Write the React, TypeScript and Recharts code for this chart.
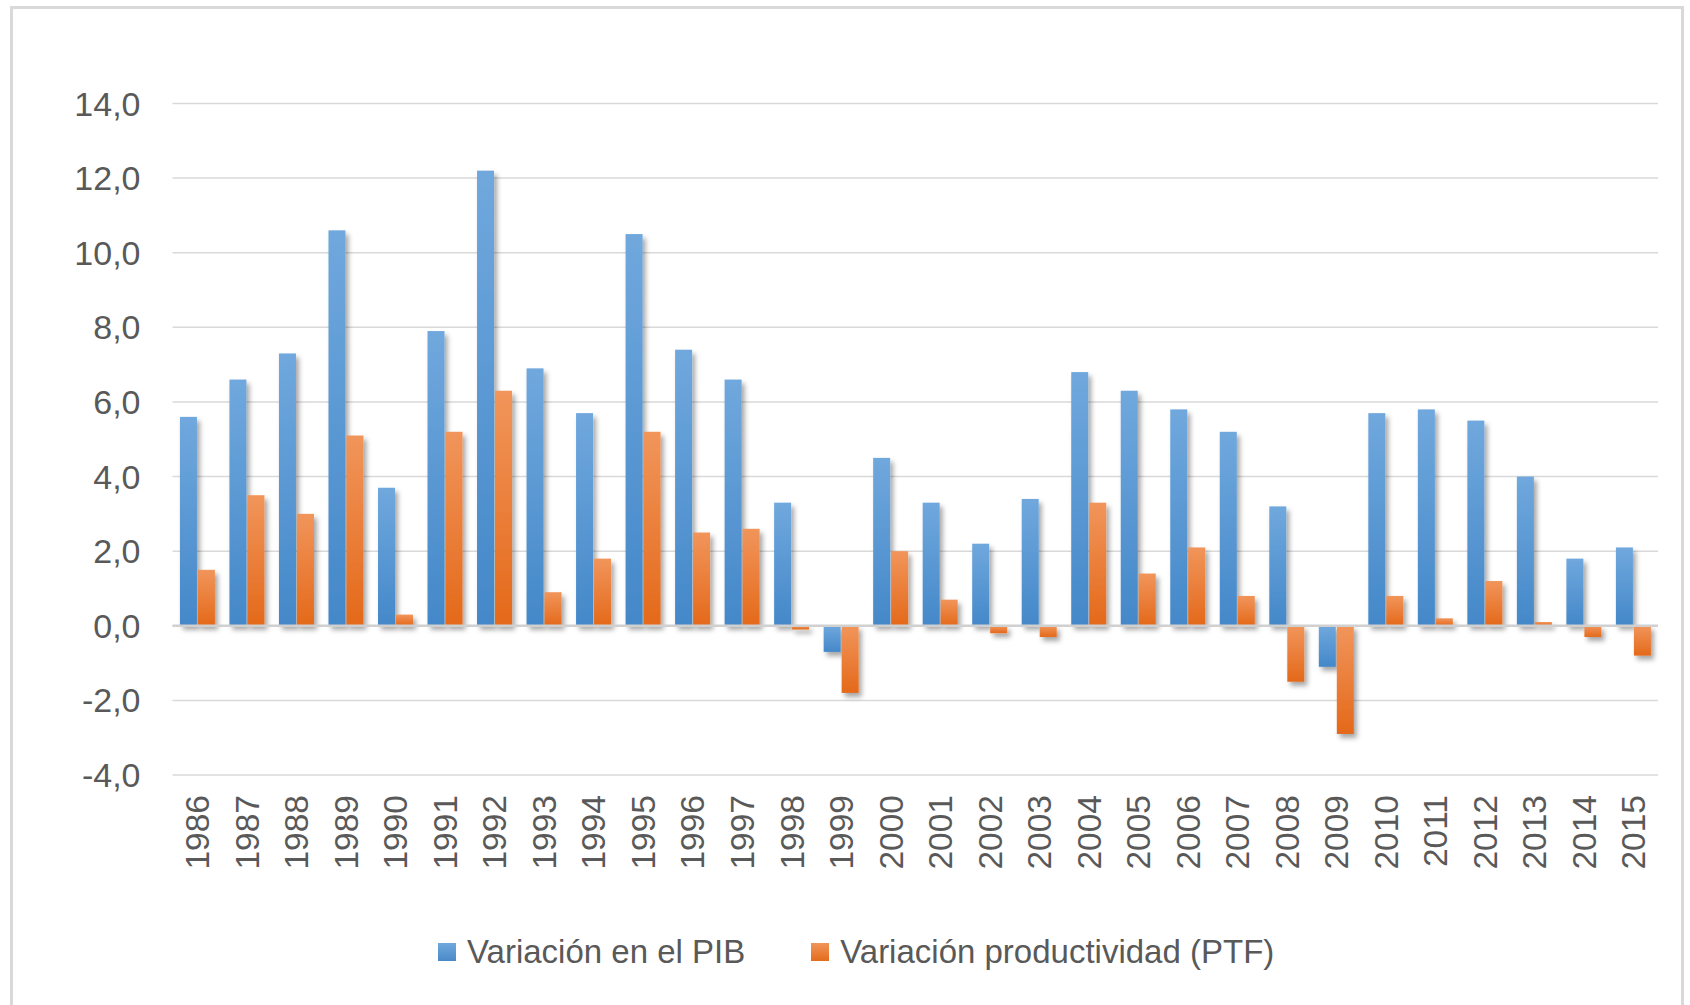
import React from 'react';
import { BarChart, Bar, XAxis, YAxis, CartesianGrid, ReferenceLine } from 'recharts';

const years = ['1986','1987','1988','1989','1990','1991','1992','1993','1994','1995','1996','1997','1998','1999','2000','2001','2002','2003','2004','2005','2006','2007','2008','2009','2010','2011','2012','2013','2014','2015'];
const pib = [5.6, 6.6, 7.3, 10.6, 3.7, 7.9, 12.2, 6.9, 5.7, 10.5, 7.4, 6.6, 3.3, -0.7, 4.5, 3.3, 2.2, 3.4, 6.8, 6.3, 5.8, 5.2, 3.2, -1.1, 5.7, 5.8, 5.5, 4.0, 1.8, 2.1];
const ptf = [1.5, 3.5, 3.0, 5.1, 0.3, 5.2, 6.3, 0.9, 1.8, 5.2, 2.5, 2.6, -0.1, -1.8, 2.0, 0.7, -0.2, -0.3, 3.3, 1.4, 2.1, 0.8, -1.5, -2.9, 0.8, 0.2, 1.2, 0.1, -0.3, -0.8];
const yTicks = [-4, -2, 0, 2, 4, 6, 8, 10, 12, 14];
const seriesNames = ['Variación en el PIB', 'Variación productividad (PTF)'];

const data = years.map((y, i) => ({ year: y, pib: pib[i], ptf: ptf[i] }));

const FONT = '"Liberation Sans", Arial, sans-serif';
const TEXT = '#595959';

const makeShape = (grad: string) => (props: any) => {
  const { x, y, width, height } = props;
  if (width == null || height == null) return null;
  const y0 = Math.min(y, y + height);
  const h = Math.abs(height);
  return <rect x={x} y={y0} width={width} height={h} fill={`url(#${grad})`} filter="url(#barShadow)" />;
};

const YearTick = (props: any) => {
  const { x, y, payload } = props;
  return (
    <text x={x} y={y} transform={`rotate(-90, ${x}, ${y})`} textAnchor="end" dy="0.36em" fill={TEXT} fontSize={33.5} fontFamily={FONT}>
      {payload.value}
    </text>
  );
};

const fmt = (v: number) => v.toFixed(1).replace('.', ',');

export default function App() {
  const legendColors = [
    'linear-gradient(#6fa8dc, #4a89c8)',
    'linear-gradient(#f0955a, #e46c1c)',
  ];
  return (
    <div style={{ position: 'absolute', left: 0, top: 0, width: 1690, height: 1005, background: '#fff', overflow: 'hidden', fontFamily: FONT }}>
      <div style={{ position: 'absolute', left: 10, top: 6, width: 1674, height: 1020, border: '3px solid #d9d9d9', boxSizing: 'border-box' }} />
      <div style={{ position: 'absolute', left: 0, top: 0 }}>
        <BarChart
          width={1690}
          height={1005}
          data={data}
          margin={{ top: 103.5, right: 32, bottom: 100, left: 0 }}
          barCategoryGap="15%"
          barGap={1}
        >
          <defs>
            <linearGradient id="gradBlue" x1="0" y1="0" x2="0" y2="1">
              <stop offset="0%" stopColor="#70a8dd" />
              <stop offset="100%" stopColor="#4488c9" />
            </linearGradient>
            <linearGradient id="gradOrange" x1="0" y1="0" x2="0" y2="1">
              <stop offset="0%" stopColor="#f1955b" />
              <stop offset="100%" stopColor="#e4691a" />
            </linearGradient>
            <filter id="barShadow" filterUnits="userSpaceOnUse" x="0" y="0" width="1690" height="1005">
              <feDropShadow dx="3" dy="4" stdDeviation="2.5" floodColor="#000" floodOpacity="0.35" />
            </filter>
          </defs>
          <CartesianGrid vertical={false} stroke="#d9d9d9" strokeWidth={1.5} />
          <XAxis
            dataKey="year"
            interval={0}
            axisLine={false}
            tickLine={false}
            tickSize={0}
            tickMargin={20}
            height={130}
            tick={<YearTick />}
          />
          <YAxis
            domain={[-4, 14]}
            ticks={yTicks}
            interval={0}
            width={172.5}
            axisLine={false}
            tickLine={false}
            tickSize={0}
            tickMargin={32}
            tickFormatter={fmt}
            tick={{ fill: TEXT, fontSize: 34, fontFamily: FONT }}
          />
          <Bar dataKey="pib" name={seriesNames[0]} isAnimationActive={false} shape={makeShape('gradBlue')} />
          <Bar dataKey="ptf" name={seriesNames[1]} isAnimationActive={false} shape={makeShape('gradOrange')} />
          <ReferenceLine y={0} stroke="#d0d0d0" strokeWidth={2.5} />
        </BarChart>
      </div>
      <div style={{ position: 'absolute', left: 438, top: 932, display: 'flex', alignItems: 'center', height: 40 }}>
        {seriesNames.map((n, i) => (
          <div key={n} style={{ display: 'flex', alignItems: 'center', marginRight: i === 0 ? 66 : 0 }}>
            <div style={{ width: 18, height: 18, background: legendColors[i], marginRight: 11 }} />
            <span style={{ fontSize: 33, color: TEXT, lineHeight: '40px', whiteSpace: 'nowrap' }}>{n}</span>
          </div>
        ))}
      </div>
    </div>
  );
}
